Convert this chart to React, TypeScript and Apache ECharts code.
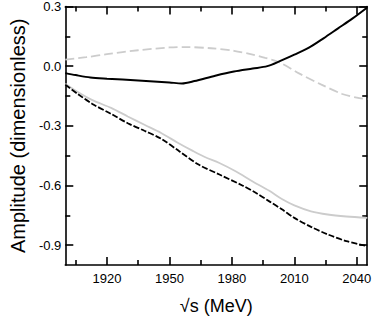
import { useEffect, useRef } from "react";
import * as echarts from "echarts";

const xMajorTicks = [1920, 1950, 1980, 2010, 2040];
const xMinorTicks = [1905, 1935, 1965, 1995, 2025];
const yMajorTicks = [-0.9, -0.6, -0.3, 0, 0.3];
const yMinorTicks = [-0.75, -0.45, -0.15, 0.15];

const solidBlackE = [1900, 1905, 1912, 1920, 1935, 1950, 1956, 1962, 1972, 1981, 1990, 1997, 2003, 2010, 2017, 2024, 2031, 2038, 2045];
const solidBlackA = [-0.035, -0.045, -0.057, -0.063, -0.072, -0.082, -0.087, -0.075, -0.048, -0.027, -0.012, 0.0, 0.025, 0.058, 0.093, 0.14, 0.19, 0.24, 0.295];

const grayDashE = [1900, 1910, 1920, 1935, 1950, 1958, 1970, 1981, 1990, 1996, 2003, 2012, 2023, 2033, 2040, 2045];
const grayDashA = [0.033, 0.045, 0.06, 0.08, 0.094, 0.096, 0.09, 0.077, 0.058, 0.042, 0.018, -0.035, -0.093, -0.14, -0.158, -0.166];

const blackDashE = [1900, 1906, 1913, 1922, 1930, 1938, 1946, 1955, 1964, 1974, 1985, 1992, 1998, 2004, 2010, 2018, 2026, 2035, 2045];
const blackDashA = [-0.093, -0.14, -0.19, -0.24, -0.287, -0.325, -0.365, -0.43, -0.495, -0.545, -0.6, -0.64, -0.68, -0.72, -0.763, -0.808, -0.846, -0.88, -0.905];

const graySolidE = [1900, 1906, 1913, 1922, 1930, 1938, 1946, 1954, 1961, 1967, 1974, 1982, 1990, 1998, 2004, 2010, 2018, 2026, 2035, 2045];
const graySolidA = [-0.088, -0.13, -0.171, -0.21, -0.253, -0.295, -0.336, -0.385, -0.425, -0.457, -0.487, -0.53, -0.58, -0.627, -0.668, -0.7, -0.73, -0.746, -0.756, -0.763];

const zip = (xs: number[], ys: number[]) => xs.map((x, i) => [x, ys[i]]);

const FONT = "'Liberation Sans', Arial, Helvetica, sans-serif";
const X_MIN = 1900;
const X_MAX = 2045;
const Y_MIN = -1.0;
const Y_MAX = 0.3;

export default function App() {
  const ref = useRef<HTMLDivElement>(null);
  useEffect(() => {
    if (!ref.current) return;
    const chart = echarts.init(ref.current, null, { renderer: "svg" });
    const lineStyle = { color: "#000", width: 1.6 };
    const xBase = (position: string, ticks: number[], len: number, showLine: boolean, labels: boolean, name?: string) => ({
      type: "value",
      position,
      min: X_MIN,
      max: X_MAX,
      splitLine: { show: false },
      axisLine: { show: showLine, onZero: false, lineStyle },
      axisTick: { show: true, inside: true, length: len, customValues: ticks, lineStyle },
      axisLabel: labels
        ? {
            show: true,
            customValues: ticks,
            margin: 7,
            color: "#000",
            fontSize: 13,
            fontFamily: FONT,
            formatter: (v: number) => String(v),
          }
        : { show: false },
      name,
      nameLocation: "middle",
      nameGap: 32,
      nameTextStyle: { color: "#000", fontSize: 18, fontFamily: FONT },
    });
    const yBase = (position: string, ticks: number[], len: number, showLine: boolean, labels: boolean, name?: string) => ({
      type: "value",
      position,
      min: Y_MIN,
      max: Y_MAX,
      splitLine: { show: false },
      axisLine: { show: showLine, onZero: false, lineStyle },
      axisTick: { show: true, inside: true, length: len, customValues: ticks, lineStyle },
      axisLabel: labels
        ? {
            show: true,
            customValues: ticks,
            margin: 4,
            color: "#000",
            fontSize: 13,
            fontFamily: FONT,
            formatter: (v: number) => v.toFixed(1),
          }
        : { show: false },
      name,
      nameLocation: "middle",
      nameGap: 30,
      nameTextStyle: { color: "#000", fontSize: 20, fontFamily: FONT },
    });
    chart.setOption({
      animation: false,
      backgroundColor: "#fff",
      grid: { left: 57, top: 6, right: 6, bottom: 46, containLabel: false },
      xAxis: [
        xBase("bottom", xMajorTicks, 8, true, true, "√s (MeV)"),
        xBase("bottom", xMinorTicks, 5, false, false),
        xBase("top", xMajorTicks, 8, true, false),
        xBase("top", xMinorTicks, 5, false, false),
      ],
      yAxis: [
        yBase("left", yMajorTicks, 8, true, true, "Amplitude (dimensionless)"),
        yBase("left", yMinorTicks, 5, false, false),
        yBase("right", yMajorTicks, 8, true, false),
        yBase("right", yMinorTicks, 5, false, false),
      ],
      series: [
        {
          type: "line",
          data: zip(grayDashE, grayDashA),
          smooth: 0.3,
          showSymbol: false,
          lineStyle: { color: "#cccccc", width: 1.8, type: [9, 4] },
        },
        {
          type: "line",
          data: zip(graySolidE, graySolidA),
          smooth: 0.3,
          showSymbol: false,
          lineStyle: { color: "#cccccc", width: 1.8, type: "solid" },
        },
        {
          type: "line",
          data: zip(blackDashE, blackDashA),
          smooth: 0.3,
          showSymbol: false,
          lineStyle: { color: "#000", width: 1.8, type: [6, 2] },
        },
        {
          type: "line",
          data: zip(solidBlackE, solidBlackA),
          smooth: 0.3,
          showSymbol: false,
          lineStyle: { color: "#000", width: 2, type: "solid" },
        },
      ],
    });
    return () => chart.dispose();
  }, []);
  return (
    <div
      ref={ref}
      style={{ position: "absolute", left: 0, top: 0, width: 374, height: 320 }}
    />
  );
}
